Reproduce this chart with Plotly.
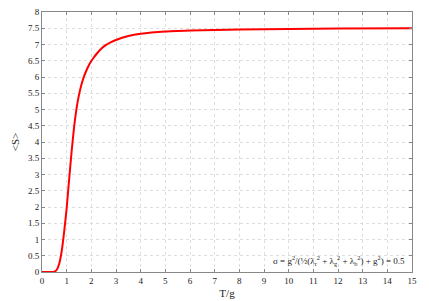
import plotly.graph_objects as go

T = [0, 0.2, 0.4, 0.5, 0.6, 0.7, 0.8, 0.9, 1.0, 1.1, 1.2, 1.3, 1.4, 1.5, 1.6, 1.7, 1.8, 1.9,
     2.0, 2.1, 2.2, 2.4, 2.6, 2.8, 3.0, 3.5, 4, 5, 6, 7, 8, 10, 12, 15]
S = [0, 0, 0.0, 0.01, 0.07, 0.26, 0.65, 1.25, 1.97, 2.85, 3.7, 4.45, 5.03, 5.45, 5.77, 6.01, 6.2, 6.36,
     6.49, 6.6, 6.7, 6.87, 6.99, 7.07, 7.14, 7.26, 7.33, 7.4, 7.43, 7.45, 7.46, 7.48, 7.49, 7.5]

x_ticks = list(range(0, 16))
y_ticks = [i * 0.5 for i in range(0, 17)]
y_labels = [("%g" % v) for v in y_ticks]

font = "Liberation Serif"

fig = go.Figure()
fig.add_trace(go.Scatter(x=T, y=S, mode="lines",
                         line=dict(color="#ff0000", width=2, shape="spline", smoothing=0.5),
                         showlegend=False, hoverinfo="skip"))

axis_common = dict(showline=True, linecolor="#888888", linewidth=1, mirror="ticks",
                   ticks="inside", ticklen=3, tickcolor="#888888", automargin=False,
                   showgrid=True, gridcolor="#dedede", griddash="dot", gridwidth=1,
                   zeroline=False, tickfont=dict(family=font, size=9, color="#222222"))

fig.update_xaxes(range=[0, 15], tickvals=x_ticks, ticktext=[str(v) for v in x_ticks],
                 title=dict(text="T/g", font=dict(family=font, size=11, color="#222222"), standoff=4),
                 **axis_common)
fig.update_yaxes(range=[0, 8], tickvals=y_ticks, ticktext=y_labels,
                 title=dict(text="&lt;S&gt;", font=dict(family=font, size=11, color="#222222"), standoff=6),
                 **axis_common)

fig.add_annotation(x=1, y=0, xref="paper", yref="paper", xanchor="right", yanchor="bottom",
                   xshift=-5, yshift=3, showarrow=False,
                   text="σ = g<sup>2</sup>/(½(λ<sub>r</sub><sup>2</sup> + λ<sub>g</sub><sup>2</sup> + λ<sub>b</sub><sup>2</sup>) + g<sup>2</sup>) = 0.5",
                   font=dict(family=font, size=9, color="#222222"))

fig.update_layout(width=429, height=301, margin=dict(l=41.5, r=17, t=12, b=28.5),
                  plot_bgcolor="white", paper_bgcolor="white")

fig.write_html("out.html", config={"displayModeBar": False},
               post_script="document.body.style.margin='0';")
